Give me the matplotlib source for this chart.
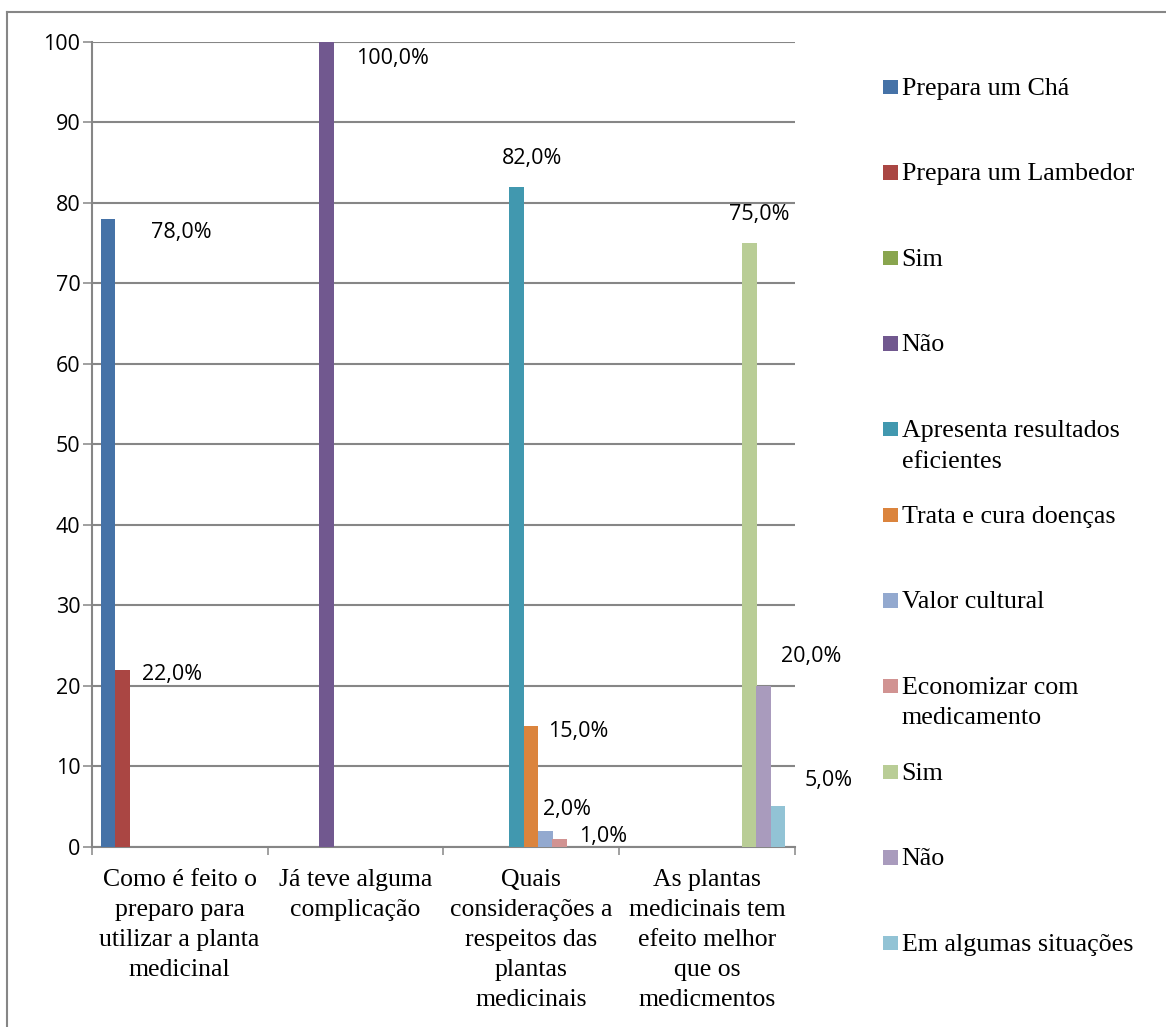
import matplotlib
matplotlib.use("Agg")
import matplotlib.pyplot as plt
import numpy as np
from matplotlib.patches import Rectangle
from matplotlib.lines import Line2D

# ---------------- data ----------------
categories = [
    "Como é feito o\npreparo para\nutilizar a planta\nmedicinal",
    "Já teve alguma\ncomplicação",
    "Quais\nconsiderações a\nrespeitos das\nplantas\nmedicinais",
    "As plantas\nmedicinais tem\nefeito melhor\nque os\nmedicmentos",
]
series_names = [
    "Prepara um Chá",
    "Prepara um Lambedor",
    "Sim",
    "Não",
    "Apresenta resultados\neficientes",
    "Trata e cura doenças",
    "Valor cultural",
    "Economizar com\nmedicamento",
    "Sim",
    "Não",
    "Em algumas situações",
]
prepara_cha = [78, 0, 0, 0]
prepara_lambedor = [22, 0, 0, 0]
sim_1 = [0, 0, 0, 0]
nao_1 = [0, 100, 0, 0]
apresenta_resultados = [0, 0, 82, 0]
trata_cura = [0, 0, 15, 0]
valor_cultural = [0, 0, 2, 0]
economizar = [0, 0, 1, 0]
sim_2 = [0, 0, 0, 75]
nao_2 = [0, 0, 0, 20]
em_algumas = [0, 0, 0, 5]
yticks = [0, 10, 20, 30, 40, 50, 60, 70, 80, 90, 100]

series_values = [prepara_cha, prepara_lambedor, sim_1, nao_1, apresenta_resultados,
                 trata_cura, valor_cultural, economizar, sim_2, nao_2, em_algumas]

# ---------------- style ----------------
colors = ["#4572A7", "#AA4643", "#89A54E", "#71588F", "#4198AF", "#DB843D",
          "#93A9CF", "#D19392", "#B9CD96", "#A99BBD", "#92C3D5"]
# label offsets in pixels (dx from bar right edge, dy from bar top), for non-zero values
label_offsets = {
    (0, 0): (36, -14), (1, 0): (12, -5), (3, 1): (22, -17), (4, 2): (-22, 28),
    (5, 2): (10, -6), (6, 2): (-10, 21), (7, 2): (12, 2), (8, 3): (-28, 28),
    (9, 3): (10, 29), (10, 3): (19, 26),
}
GRAY = "#868686"
SANS = ["Open Sans", "DejaVu Sans"]
SERIF = ["Liberation Serif", "DejaVu Serif"]

W, H = 1166, 1027
fig = plt.figure(figsize=(W / 100, H / 100), dpi=100)
fig.patch.set_facecolor("white")

ax_l, ax_r, ax_t, ax_b = 91.7, 795.0, 41.7, 846.7
ax = fig.add_axes([ax_l / W, 1 - ax_b / H, (ax_r - ax_l) / W, (ax_b - ax_t) / H])

n_cat = len(categories)
base = np.arange(n_cat)
off = 0.051
step = 0.081
bw = 0.084
for j, (vals, c) in enumerate(zip(series_values, colors)):
    xs = base - 0.5 + off + j * step
    ax.bar(xs, vals, width=bw, align="edge", color=c, zorder=3, linewidth=0)
    for i, v in enumerate(vals):
        if v == 0:
            continue
        dx, dy = label_offsets.get((j, i), (8, 0))
        txt = f"{v:.1f}%".replace(".", ",")
        ax.annotate(txt, xy=(xs[i] + bw, v), xytext=(dx, dy), textcoords="offset pixels",
                    ha="left", va="center", fontsize=15.5, family=SANS, color="black",
                    zorder=5, annotation_clip=False)

ax.set_xlim(-0.5, n_cat - 0.5)
ax.set_ylim(0, 100)
ax.set_yticks(yticks)
ax.yaxis.grid(True, color=GRAY, linewidth=1.5, zorder=0)
ax.set_axisbelow(True)
for s in ["top", "right"]:
    ax.spines[s].set_visible(False)
for s in ["left", "bottom"]:
    ax.spines[s].set_color(GRAY)
    ax.spines[s].set_linewidth(1.5)

ax.tick_params(axis="y", direction="out", length=6.2, width=1.1, color=GRAY, pad=2,
               labelsize=15.5)
for lab in ax.get_yticklabels():
    lab.set_family(SANS)

ax.set_xticks(base)
ax.set_xticklabels(categories, fontsize=18.5, family=SERIF, linespacing=1.47)
ax.tick_params(axis="x", which="major", length=0, pad=16)
ax.set_xticks(np.arange(n_cat + 1) - 0.5, minor=True)
ax.tick_params(axis="x", which="minor", direction="out", length=6, width=1.1, color=GRAY)

# ---------------- legend (manual, Excel-like spacing) ----------------
leg_y = np.linspace(86.7, 943.0, len(series_names))
sq = 14.4
for name, c, yc in zip(series_names, colors, leg_y):
    fig.add_artist(Rectangle((883.3 / W, 1 - (yc + sq / 2) / H), sq / W, sq / H,
                             transform=fig.transFigure, facecolor=c, edgecolor="none"))
    fig.text(901.7 / W, 1 - (yc - 9.2) / H, name, ha="left", va="top",
             fontsize=18.7, family=SERIF, color="black", linespacing=1.5)

# chart border (top and left visible)
fig.add_artist(Line2D([7 / W, 1.0], [1 - 12 / H, 1 - 12 / H], transform=fig.transFigure,
                      color=GRAY, linewidth=1.5))
fig.add_artist(Line2D([7 / W, 7 / W], [1 - 12 / H, 0.0], transform=fig.transFigure,
                      color=GRAY, linewidth=1.5))

fig.savefig("out.png", dpi=100, facecolor="white")
